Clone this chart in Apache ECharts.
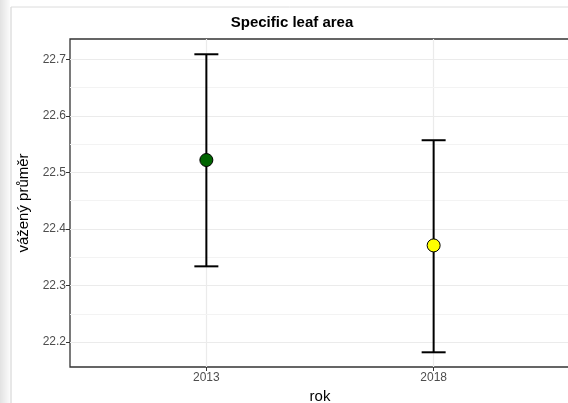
<!DOCTYPE html>
<html>
<head>
<meta charset="utf-8">
<script src="https://cdn.jsdelivr.net/npm/echarts@6/dist/echarts.min.js"></script>
<style>html,body{margin:0;padding:0;background:#fff;}#c{width:568px;height:403px;}</style>
</head>
<body>
<div id="c"></div>
<script>
const categories = ['2013', '2018'];
const means = [22.522, 22.371];
const lower = [22.334, 22.182];
const upper = [22.709, 22.557];
const pointColors = ['#006400', '#ffff00'];
const yTicks = [22.2, 22.3, 22.4, 22.5, 22.6, 22.7];
const yMinorTicks = [22.25, 22.35, 22.45, 22.55, 22.65];

const chart = echarts.init(document.getElementById('c'), null, {renderer: 'canvas'});
const catIdx = categories.map((c, i) => i + 1);

const option = {
  animation: false,
  backgroundColor: '#fff',
  graphic: [
    {type: 'rect', shape: {x: 0, y: 0, width: 10, height: 403}, silent: true, z: -10,
      style: {fill: new echarts.graphic.LinearGradient(0, 0, 1, 0, [{offset: 0, color: '#e2e2e2'}, {offset: 1, color: '#fbfbfb'}])}},
    {type: 'line', shape: {x1: 11, y1: 7, x2: 11, y2: 403}, style: {stroke: '#cfcfcf', lineWidth: 1}, silent: true},
    {type: 'line', shape: {x1: 11, y1: 7, x2: 568, y2: 7}, style: {stroke: '#dcdcdc', lineWidth: 1}, silent: true}
  ],
  title: {
    text: 'Specific leaf area', left: 287, top: 10, textAlign: 'center',
    textStyle: {fontFamily: 'Liberation Sans, Arial', fontSize: 15, fontWeight: 'bold', color: '#000'}
  },
  grid: {left: 70, top: 39, width: 500, height: 328, show: true, borderColor: '#333', borderWidth: 1.3,
    backgroundColor: 'transparent', containLabel: false, outerBoundsMode: 'none'},
  xAxis: {
    type: 'value', min: 0.4, max: 2.6,
    name: 'rok', nameLocation: 'middle', nameGap: 22,
    nameTextStyle: {fontFamily: 'Liberation Sans, Arial', fontSize: 15, color: '#000'},
    axisLine: {show: false},
    axisTick: {show: true, customValues: catIdx, length: 4, lineStyle: {color: '#333', width: 1}},
    axisLabel: {customValues: catIdx, formatter: v => categories[Math.round(v) - 1], color: '#4d4d4d', fontFamily: 'Liberation Sans, Arial', fontSize: 12, margin: 5},
    splitLine: {show: true, lineStyle: {color: '#ebebeb', width: 1.2}}
  },
  yAxis: [{
    type: 'value', min: 22.156, max: 22.736,
    name: 'vážený průměr', nameLocation: 'middle', nameGap: 32,
    nameTextStyle: {fontFamily: 'Liberation Sans, Arial', fontSize: 15, color: '#000'},
    axisLine: {show: false},
    axisTick: {show: true, customValues: yTicks, length: 4, lineStyle: {color: '#333', width: 1}},
    axisLabel: {customValues: yTicks, formatter: v => v.toFixed(1), color: '#4d4d4d', fontFamily: 'Liberation Sans, Arial', fontSize: 12, margin: 4},
    splitLine: {show: true, lineStyle: {color: '#ebebeb', width: 1.2}},
    z: 2
  }, {
    type: 'value', min: 22.156, max: 22.736, position: 'left',
    axisLine: {show: false},
    axisTick: {show: false, customValues: yMinorTicks},
    axisLabel: {show: false, customValues: yMinorTicks},
    splitLine: {show: true, lineStyle: {color: '#f3f3f3', width: 1}},
    z: 1
  }],
  series: [{
    type: 'custom',
    coordinateSystem: 'cartesian2d',
    data: catIdx.map((x, i) => [x, lower[i], upper[i]]),
    encode: {x: 0, y: [1, 2]},
    renderItem: function (params, api) {
      const x = api.value(0);
      const lo = api.coord([x, api.value(1)]);
      const hi = api.coord([x, api.value(2)]);
      const hw = 12;
      const st = {stroke: '#000', lineWidth: 2};
      return {type: 'group', children: [
        {type: 'line', shape: {x1: lo[0], y1: lo[1], x2: hi[0], y2: hi[1]}, style: st},
        {type: 'line', shape: {x1: lo[0] - hw, y1: lo[1], x2: lo[0] + hw, y2: lo[1]}, style: st},
        {type: 'line', shape: {x1: hi[0] - hw, y1: hi[1], x2: hi[0] + hw, y2: hi[1]}, style: st}
      ]};
    },
    z: 3
  }, {
    type: 'scatter',
    symbolSize: 13,
    data: catIdx.map((x, i) => ({value: [x, means[i]], itemStyle: {color: pointColors[i]}})),
    itemStyle: {borderColor: '#000', borderWidth: 1, opacity: 1},
    z: 4
  }]
};
chart.setOption(option);
</script>
</body>
</html>
